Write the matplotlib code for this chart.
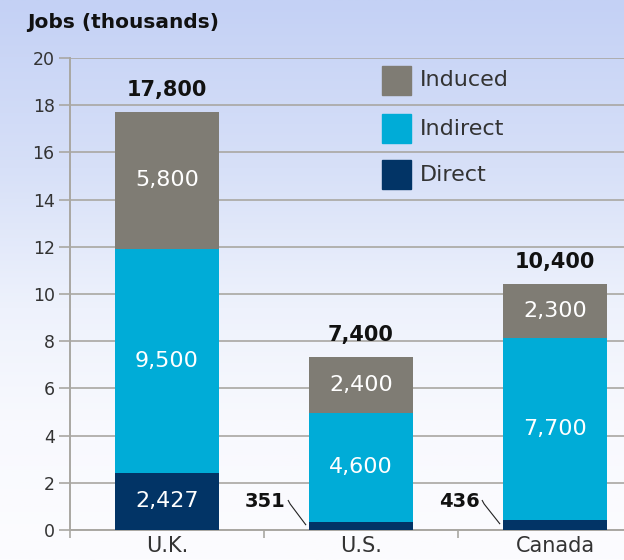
import numpy as np
import matplotlib.pyplot as plt
from matplotlib.colors import LinearSegmentedColormap
from matplotlib.patches import Rectangle
import matplotlib.transforms as mtransforms

plt.rcParams['font.family'] = ['DejaVu Sans']

countries = ['U.K.', 'U.S.', 'Canada']
direct = [2.427, 0.351, 0.436]
indirect = [9.5, 4.6, 7.7]
induced = [5.8, 2.4, 2.3]
direct_labels = ['2,427', '351', '436']
indirect_labels = ['9,500', '4,600', '7,700']
induced_labels = ['5,800', '2,400', '2,300']
total_labels = ['17,800', '7,400', '10,400']
yticks = [0, 2, 4, 6, 8, 10, 12, 14, 16, 18, 20]

c_direct = '#023466'
c_indirect = '#00acd7'
c_induced = '#7f7c74'
grid_c = '#a9a7a2'

fig = plt.figure(figsize=(6.24, 5.6), dpi=100)

# sky-like background
bg = fig.add_axes([0, 0, 1, 1], zorder=-5)
cmap = LinearSegmentedColormap.from_list('sky', [
    (0.0, '#c4d1f5'), (0.3, '#d7e0f8'), (0.55, '#eef2fc'),
    (0.75, '#f8f9fe'), (1.0, '#fcfcfe')])
grad = np.linspace(0, 1, 256).reshape(-1, 1)
bg.imshow(grad, aspect='auto', cmap=cmap, extent=[0, 1, 0, 1], origin='upper')
bg.axis('off')

ax = fig.add_axes([70 / 624, 30 / 560, 554 / 624, 472 / 560])
ax.patch.set_alpha(0)

x = np.arange(len(countries))
w = 0.54
bottom2 = np.array(direct) + np.array(indirect)
totals = bottom2 + np.array(induced)

ax.bar(x, direct, w, color=c_direct, zorder=3)
ax.bar(x, indirect, w, bottom=direct, color=c_indirect, zorder=3)
ax.bar(x, induced, w, bottom=bottom2, color=c_induced, zorder=3)

lab = dict(color='white', fontsize=16, ha='center', va='center', zorder=4)
for i in range(len(countries)):
    ax.text(x[i], bottom2[i] + induced[i] / 2, induced_labels[i], **lab)
    ax.text(x[i], direct[i] + indirect[i] / 2, indirect_labels[i], **lab)
    ax.text(x[i], totals[i] + 0.9, total_labels[i], ha='center', va='center',
            fontsize=15, fontweight='bold', color='#111111')
    if direct[i] > 1:
        ax.text(x[i], direct[i] / 2, direct_labels[i], **lab)
    else:
        left = x[i] - w / 2
        ax.text(left - 0.12, 1.2, direct_labels[i], ha='right', va='center',
                fontsize=14, fontweight='bold', color='#111111')
        ax.plot([left - 0.105, left - 0.095, left - 0.015], [1.25, 1.1, direct[i] / 2 + 0.05],
                color='#222222', lw=0.8, zorder=4)

ax.set_yticks(yticks)
ax.set_yticklabels([str(t) for t in yticks], fontsize=12.5, color='#333333')
ax.set_xticks(x)
ax.set_xticklabels(countries, fontsize=15, color='#333333')
ax.set_xticks(np.arange(-0.5, 2.0, 1), minor=True)
ax.set_xlim(-0.5, 554 / 194 - 0.5)
ax.set_ylim(0, 20)
ax.tick_params(axis='x', which='major', length=0, pad=4)
ax.tick_params(axis='x', which='minor', length=6, color=grid_c, width=1.2, direction='out')
ax.tick_params(axis='y', length=8, color=grid_c, width=1.2, pad=3)
ax.grid(axis='y', color=grid_c, lw=1.2, zorder=0)
for s in ['top', 'right']:
    ax.spines[s].set_visible(False)
ax.spines['left'].set_color(grid_c)
ax.spines['left'].set_linewidth(1.4)
ax.spines['bottom'].set_color(grid_c)
ax.spines['bottom'].set_linewidth(1.4)

# legend drawn between the grid lines
trans = mtransforms.blended_transform_factory(ax.transAxes, ax.transData)
leg = [('Induced', c_induced, 19.05), ('Indirect', c_indirect, 17.0), ('Direct', c_direct, 15.05)]
for name, col, yc in leg:
    ax.add_patch(Rectangle((312 / 554, yc - 0.62), 29 / 554, 1.24, transform=trans,
                           color=col, zorder=4, clip_on=False))
    ax.text(350 / 554, yc, name, transform=trans, fontsize=16, color='#333333',
            va='center', ha='left', zorder=4)

fig.text(27 / 624, 1 - 22 / 560, 'Jobs (thousands)', fontsize=14.5, fontweight='bold',
         color='#111111', ha='left', va='center')

fig.savefig('out.png', dpi=100)
